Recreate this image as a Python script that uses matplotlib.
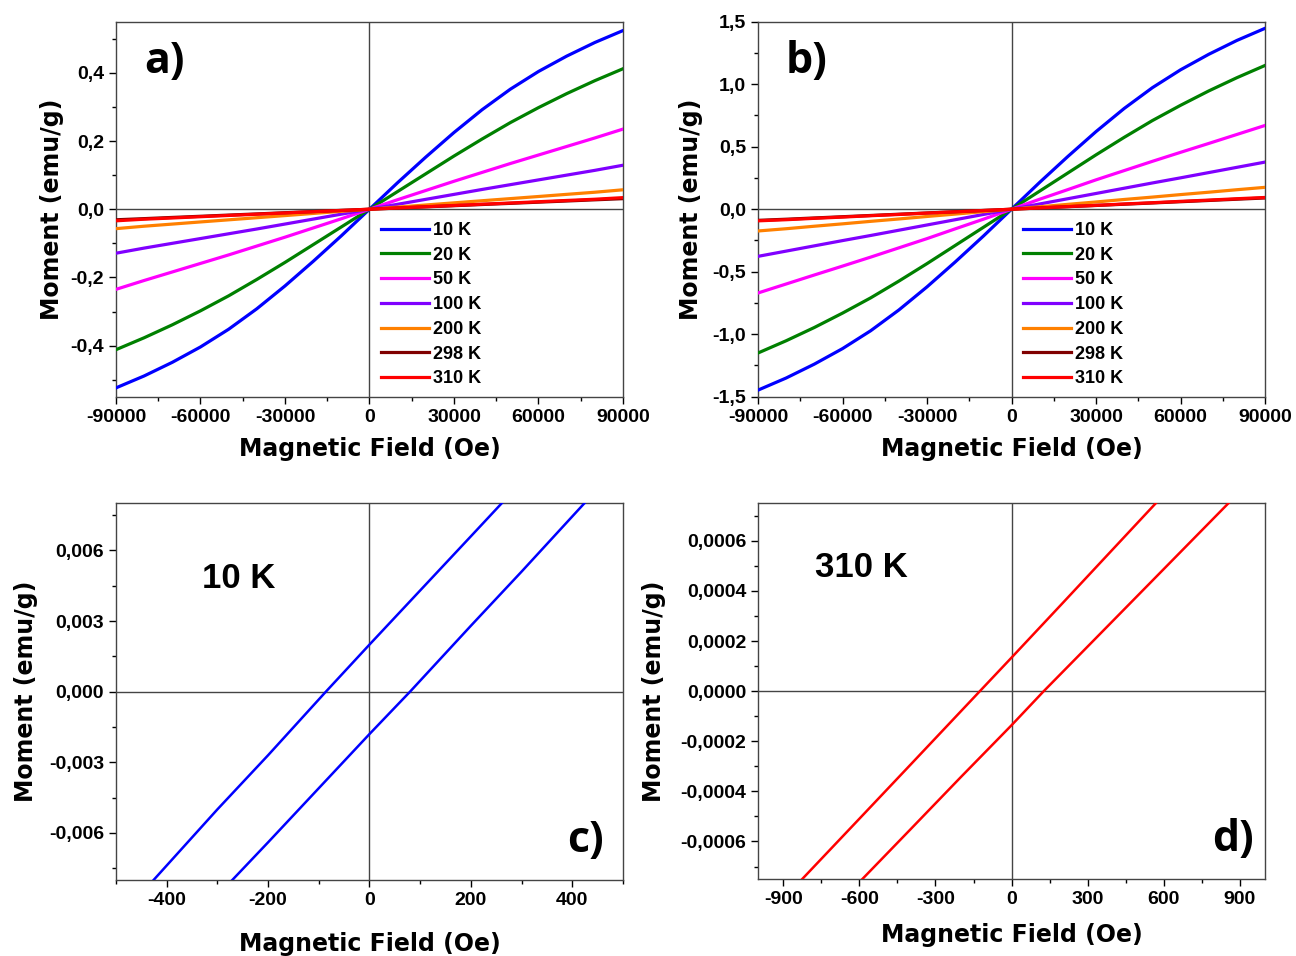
import matplotlib
matplotlib.use("Agg")
import matplotlib.pyplot as plt
from matplotlib.ticker import MultipleLocator, FuncFormatter

plt.rcParams['font.family'] = ['Liberation Sans', 'DejaVu Sans']
plt.rcParams['font.weight'] = 'bold'

# field grid for the M(H) curves, panels a) and b)
field = [-90000, -80000, -70000, -60000, -50000, -40000, -30000, -20000, -10000, 0,
         10000, 20000, 30000, 40000, 50000, 60000, 70000, 80000, 90000]
temps = ["10 K", "20 K", "50 K", "100 K", "200 K", "298 K", "310 K"]
colors = ["#0000ff", "#008000", "#ff00ff", "#8000ff", "#ff8000", "#800000", "#ff0000"]

# panel a) moment (emu/g)
a_10 = [-0.524, -0.489, -0.449, -0.404, -0.352, -0.292, -0.225, -0.153, -0.078, 0.0,
        0.078, 0.153, 0.225, 0.292, 0.352, 0.404, 0.449, 0.489, 0.524]
a_20 = [-0.412, -0.377, -0.339, -0.298, -0.254, -0.206, -0.156, -0.104, -0.052, 0.0,
        0.052, 0.104, 0.156, 0.206, 0.254, 0.298, 0.339, 0.377, 0.412]
a_50 = [-0.235, -0.209, -0.184, -0.159, -0.134, -0.108, -0.082, -0.055, -0.028, 0.0,
        0.028, 0.055, 0.082, 0.108, 0.134, 0.159, 0.184, 0.209, 0.235]
a_100 = [-0.129, -0.114, -0.100, -0.086, -0.072, -0.058, -0.0435, -0.029, -0.0145, 0.0,
         0.0145, 0.029, 0.0435, 0.058, 0.072, 0.086, 0.100, 0.114, 0.129]
a_200 = [-0.057, -0.0498, -0.0436, -0.0373, -0.0311, -0.0249, -0.0187, -0.0124, -0.0062, 0.0,
         0.0062, 0.0124, 0.0187, 0.0249, 0.0311, 0.0373, 0.0436, 0.0498, 0.057]
a_298 = [-0.031, -0.0276, -0.0241, -0.0207, -0.0172, -0.0138, -0.0103, -0.0069, -0.0034, 0.0,
         0.0034, 0.0069, 0.0103, 0.0138, 0.0172, 0.0207, 0.0241, 0.0276, 0.031]
a_310 = [-0.034, -0.0293, -0.0257, -0.022, -0.0183, -0.0147, -0.011, -0.0073, -0.0037, 0.0,
         0.0037, 0.0073, 0.011, 0.0147, 0.0183, 0.022, 0.0257, 0.0293, 0.034]

# panel b) moment (emu/g)
b_10 = [-1.447, -1.350, -1.239, -1.115, -0.972, -0.806, -0.621, -0.422, -0.215, 0.0,
        0.215, 0.422, 0.621, 0.806, 0.972, 1.115, 1.239, 1.350, 1.447]
b_20 = [-1.150, -1.052, -0.946, -0.831, -0.709, -0.575, -0.435, -0.290, -0.145, 0.0,
        0.145, 0.290, 0.435, 0.575, 0.709, 0.831, 0.946, 1.052, 1.150]
b_50 = [-0.670, -0.598, -0.526, -0.455, -0.383, -0.309, -0.235, -0.157, -0.080, 0.0,
        0.080, 0.157, 0.235, 0.309, 0.383, 0.455, 0.526, 0.598, 0.670]
b_100 = [-0.377, -0.335, -0.293, -0.251, -0.210, -0.168, -0.126, -0.084, -0.042, 0.0,
         0.042, 0.084, 0.126, 0.168, 0.210, 0.251, 0.293, 0.335, 0.377]
b_200 = [-0.174, -0.156, -0.136, -0.117, -0.097, -0.078, -0.058, -0.039, -0.0195, 0.0,
         0.0195, 0.039, 0.058, 0.078, 0.097, 0.117, 0.136, 0.156, 0.175]
b_298 = [-0.089, -0.080, -0.070, -0.060, -0.050, -0.040, -0.030, -0.020, -0.010, 0.0,
         0.010, 0.020, 0.030, 0.040, 0.050, 0.060, 0.070, 0.080, 0.090]
b_310 = [-0.093, -0.084, -0.073, -0.063, -0.052, -0.042, -0.031, -0.021, -0.0104, 0.0,
         0.0104, 0.021, 0.031, 0.042, 0.052, 0.063, 0.073, 0.084, 0.094]

# panel c) low-field loop at 10 K
c_up_h = [-430, -300, -200, -86, 0, 100, 200, 265]
c_up_m = [-0.0081, -0.0050, -0.0027, 0.0, 0.0020, 0.0043, 0.0066, 0.0081]
c_dn_h = [-275, -200, -100, 0, 80, 200, 300, 428]
c_dn_m = [-0.0081, -0.0064, -0.0041, -0.0018, 0.0, 0.0028, 0.0051, 0.0081]

# panel d) low-field loop at 310 K
d_up_h = [-835, -600, -400, -125, 0, 200, 400, 578]
d_up_m = [-0.00076, -0.000509, -0.000295, 0.0, 0.000134, 0.000350, 0.000567, 0.00076]
d_dn_h = [-598, -400, -200, 0, 127, 300, 500, 865]
d_dn_m = [-0.00076, -0.000553, -0.000343, -0.000136, 0.0, 0.000178, 0.000384, 0.00076]

label_font = ["DejaVu Sans"]

fig = plt.figure(figsize=(12.96, 9.56), dpi=100)
ax_a = fig.add_axes([0.0895, 0.585, 0.3912, 0.3923])
ax_b = fig.add_axes([0.5849, 0.585, 0.3912, 0.3923])
ax_c = fig.add_axes([0.0895, 0.0795, 0.3912, 0.394])
ax_d = fig.add_axes([0.5849, 0.0805, 0.3912, 0.393])


def comma_fmt(decimals):
    def f(v, pos):
        if abs(v) < 1e-12:
            v = 0.0
        return f"{v:.{decimals}f}".replace(".", ",")
    return FuncFormatter(f)


def style(ax, xmaj, xmin, ymaj, ymin, ydec):
    ax.axhline(0, color="#444444", lw=1.0, zorder=1)
    ax.axvline(0, color="#444444", lw=1.0, zorder=1)
    ax.xaxis.set_major_locator(MultipleLocator(xmaj))
    ax.xaxis.set_minor_locator(MultipleLocator(xmin))
    ax.yaxis.set_major_locator(MultipleLocator(ymaj))
    ax.yaxis.set_minor_locator(MultipleLocator(ymin))
    ax.xaxis.set_major_formatter(FuncFormatter(lambda v, p: f"{int(round(v))}"))
    ax.yaxis.set_major_formatter(comma_fmt(ydec))
    ax.tick_params(which="major", direction="out", length=5, width=1, labelsize=14)
    ax.tick_params(which="minor", direction="out", length=3, width=1)
    for sp in ax.spines.values():
        sp.set_color("#444444")
        sp.set_linewidth(1.0)
    for lab in ax.get_xticklabels() + ax.get_yticklabels():
        lab.set_fontweight("bold")


# a) and b)
for ax, series, ylim, ymaj, ymin, ydec, tag, ylpad in [
        (ax_a, [a_10, a_20, a_50, a_100, a_200, a_298, a_310], (-0.55, 0.55), 0.2, 0.1, 1, "a)", 5),
        (ax_b, [b_10, b_20, b_50, b_100, b_200, b_298, b_310], (-1.5, 1.5), 0.5, 0.25, 1, "b)", 7)]:
    for vals, col, lab in zip(series, colors, temps):
        ax.plot(field, vals, color=col, lw=2.3, label=lab, zorder=3)
    ax.set_xlim(-90000, 90000)
    ax.set_ylim(*ylim)
    style(ax, 30000, 15000, ymaj, ymin, ydec)
    ax.set_xlabel("Magnetic Field (Oe)", fontsize=17, fontweight="bold", labelpad=8,
                  family=label_font)
    ax.set_ylabel("Moment (emu/g)", fontsize=17, fontweight="bold", labelpad=ylpad,
                  family=label_font)
    ax.text(0.055, 0.895, tag, transform=ax.transAxes, fontsize=31, fontweight="bold",
            va="center", ha="left", family=["Open Sans", "DejaVu Sans"])
    ax.legend(loc="upper left", bbox_to_anchor=(0.497, 0.50), frameon=False,
              prop={"size": 13, "weight": "bold"}, handlelength=2.7,
              handletextpad=0.2, labelspacing=0.43, borderpad=0.2)

# c)
ax_c.plot(c_up_h, c_up_m, color="#0000ff", lw=1.8, zorder=3)
ax_c.plot(c_dn_h, c_dn_m, color="#0000ff", lw=1.8, zorder=3)
ax_c.set_xlim(-500, 500)
ax_c.set_ylim(-0.008, 0.008)
style(ax_c, 200, 100, 0.003, 0.0015, 3)
ax_c.set_xlabel("Magnetic Field (Oe)", fontsize=17, fontweight="bold", labelpad=17,
                family=label_font)
ax_c.set_ylabel("Moment (emu/g)", fontsize=17, fontweight="bold", labelpad=8,
                family=label_font)
ax_c.text(0.17, 0.80, "10 K", transform=ax_c.transAxes, fontsize=25, fontweight="bold",
          va="center", ha="left")
ax_c.text(0.89, 0.105, "c)", transform=ax_c.transAxes, fontsize=31, fontweight="bold",
          va="center", ha="left", family=["Open Sans", "DejaVu Sans"])

# d)
ax_d.plot(d_up_h, d_up_m, color="#ff0000", lw=1.8, zorder=3)
ax_d.plot(d_dn_h, d_dn_m, color="#ff0000", lw=1.8, zorder=3)
ax_d.set_xlim(-1000, 1000)
ax_d.set_ylim(-0.00075, 0.00075)
style(ax_d, 300, 150, 0.0002, 0.0001, 4)
ax_d.set_xlabel("Magnetic Field (Oe)", fontsize=17, fontweight="bold", labelpad=11,
                family=label_font)
ax_d.set_ylabel("Moment (emu/g)", fontsize=17, fontweight="bold", labelpad=10,
                family=label_font)
ax_d.text(0.112, 0.83, "310 K", transform=ax_d.transAxes, fontsize=25, fontweight="bold",
          va="center", ha="left")
ax_d.text(0.895, 0.105, "d)", transform=ax_d.transAxes, fontsize=31, fontweight="bold",
          va="center", ha="left", family=["Open Sans", "DejaVu Sans"])

fig.savefig("out.png", dpi=100)
